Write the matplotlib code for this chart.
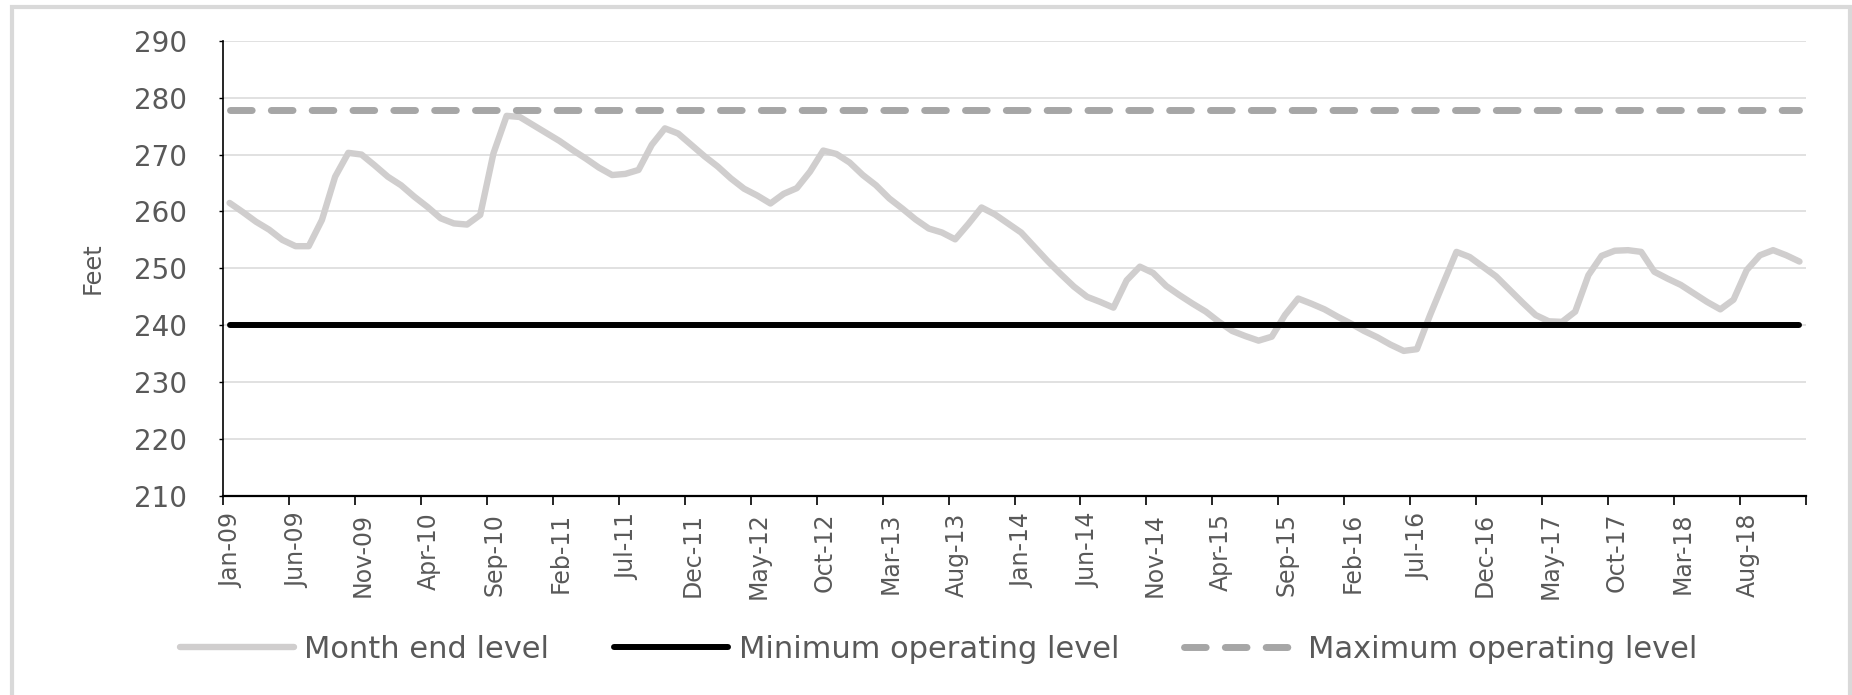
#!/usr/bin/env python3

# =============================================================================
# Month end water level with minimum / maximum operating levels
# =============================================================================

import matplotlib
matplotlib.use('agg')
import matplotlib.pyplot as plt
import matplotlib.transforms as mtransforms
from matplotlib import font_manager
from matplotlib.patches import Rectangle
import numpy as np

#==============================================================================
# Data (feet, one value per month, Jan-09 .. Dec-18)
#==============================================================================

level_2009 = [261.5, 259.9, 258.2, 256.8, 255.0, 253.9, 253.9, 258.5, 266.1, 270.3, 270.0, 268.1]
level_2010 = [266.1, 264.6, 262.6, 260.8, 258.8, 257.9, 257.7, 259.4, 270.2, 276.8, 276.6, 275.2]
level_2011 = [273.8, 272.4, 270.8, 269.3, 267.7, 266.4, 266.6, 267.3, 271.7, 274.6, 273.7, 271.7]
level_2012 = [269.7, 267.9, 265.8, 264.0, 262.8, 261.4, 263.1, 264.1, 267.0, 270.7, 270.1, 268.6]
level_2013 = [266.4, 264.6, 262.3, 260.5, 258.6, 257.0, 256.3, 255.1, 257.8, 260.7, 259.5, 257.9]
level_2014 = [256.3, 253.8, 251.3, 249.0, 246.8, 245.0, 244.1, 243.1, 247.9, 250.3, 249.2, 246.9]
level_2015 = [245.3, 243.8, 242.4, 240.6, 239.0, 238.1, 237.3, 238.0, 241.8, 244.7, 243.8, 242.8]
level_2016 = [241.5, 240.3, 239.0, 237.9, 236.6, 235.5, 235.8, 241.8, 247.4, 252.9, 252.0, 250.3]
level_2017 = [248.6, 246.3, 244.0, 241.8, 240.7, 240.6, 242.4, 248.8, 252.2, 253.1, 253.2, 252.9]
level_2018 = [249.4, 248.2, 247.1, 245.6, 244.1, 242.8, 244.5, 249.7, 252.3, 253.2, 252.3, 251.2]

min_level = 240.0
max_level = 277.8

tick_labels = ['Jan-09', 'Jun-09', 'Nov-09', 'Apr-10', 'Sep-10', 'Feb-11',
               'Jul-11', 'Dec-11', 'May-12', 'Oct-12', 'Mar-13', 'Aug-13',
               'Jan-14', 'Jun-14', 'Nov-14', 'Apr-15', 'Sep-15', 'Feb-16',
               'Jul-16', 'Dec-16', 'May-17', 'Oct-17', 'Mar-18', 'Aug-18']

month_end = (level_2009 + level_2010 + level_2011 + level_2012 + level_2013 +
             level_2014 + level_2015 + level_2016 + level_2017 + level_2018)
x = np.arange(len(month_end))

#==============================================================================
# Fonts: narrow face for the rotated texts when it is there
#==============================================================================

installed = {f.name for f in font_manager.fontManager.ttflist}
if 'Liberation Sans Narrow' in installed:
    narrow = 'Liberation Sans Narrow'
    xtick_size = 22.5
    ylabel_size = 23
else:
    narrow = 'DejaVu Sans'
    xtick_size = 17
    ylabel_size = 17.4

text_color = '#595959'
plt.rcParams['font.family'] = 'DejaVu Sans'
plt.rcParams['lines.scale_dashes'] = False

#==============================================================================
# Plot
#==============================================================================

fig = plt.figure(figsize=(18.52, 6.95), dpi=100)
ax = fig.add_axes([0.1204, 0.2863, 0.8548, 0.6551])

# chart area border
fig.patches.append(Rectangle((12 / 1852, -0.05), 1838 / 1852, 1.05 - 7 / 695,
                             transform=fig.transFigure, fill=False,
                             edgecolor='#d9d9d9', linewidth=3, zorder=0))

l1, = ax.plot(x, month_end, color='#d0cece', lw=4.6,
              solid_capstyle='round', solid_joinstyle='round',
              label='Month end level', zorder=3)
l2, = ax.plot(x, np.full(len(x), min_level), color='black', lw=4.3,
              solid_capstyle='round', label='Minimum operating level', zorder=4)
l3, = ax.plot(x, np.full(len(x), max_level), color='#a6a6a6', lw=5,
              dashes=(15.6, 13.8), dash_capstyle='round',
              label='Maximum operating level', zorder=4)

ax.set_xlim(-0.5, len(x) - 0.5)
ax.set_ylim(210, 290)
ax.set_yticks(np.arange(210, 291, 10))
ax.yaxis.grid(True, color='#d9d9d9', lw=1.1)
ax.set_axisbelow(True)

for s in ['top', 'right']:
    ax.spines[s].set_visible(False)
ax.spines['left'].set_color('black')
ax.spines['left'].set_linewidth(1.2)
ax.spines['bottom'].set_color('black')
ax.spines['bottom'].set_linewidth(1.6)

ax.set_xticks(np.arange(-0.5, len(x), 5))
ax.set_xticklabels(tick_labels + [''], rotation=90,
                   fontsize=xtick_size, family=narrow, color=text_color)
ax.tick_params(axis='x', length=6.5, width=1.2, pad=5.5)
ax.tick_params(axis='y', length=3, width=1, pad=23, labelsize=20,
               labelcolor=text_color)

# nudge the rotated labels a little to the right, as in Excel
offset = mtransforms.ScaledTranslation(0.08, 0, fig.dpi_scale_trans)
for lab in ax.get_xticklabels():
    lab.set_transform(lab.get_transform() + offset)

ax.set_ylabel('Feet', fontsize=ylabel_size, family=narrow, color=text_color)
ax.yaxis.set_label_coords(-0.0745, 0.5)

fig.legend(handles=[l1, l2, l3], loc='center', bbox_to_anchor=(0.507, 0.066),
           ncol=3, frameon=False, fontsize=22, labelcolor=text_color,
           handlelength=3.73, handletextpad=0.33, columnspacing=2.13)

fig.savefig('out.png', dpi=100)
